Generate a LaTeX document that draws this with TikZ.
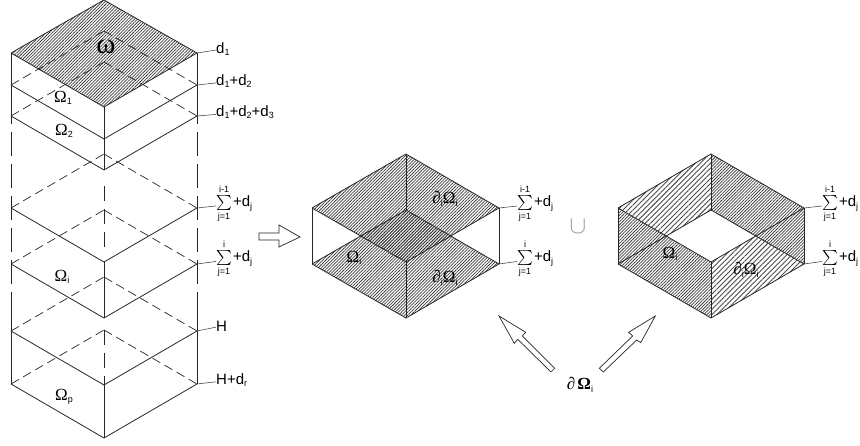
\documentclass[tikz,border=0pt]{standalone}
\usepackage{amsmath}
\usepackage{amssymb}
\usepackage{fontspec}
\setmainfont{Liberation Sans}
\newfontfamily\greekfont{Liberation Serif}
\usetikzlibrary{patterns.meta}

\newcommand{\low}[1]{\raisebox{-2.5pt}{\fontsize{9}{9}\selectfont #1}}
\newcommand{\sumlabel}[1]{$\sum\limits_{\mbox{\fontsize{9}{9}\selectfont j=1}}^{\mbox{\fontsize{9}{9}\selectfont #1}}$\hspace{1pt}+d\low{j}}
\newcommand{\facelabel}{{\greekfont Ω}\low{i}}
\newcommand{\edgelabel}{{\greekfont ∂}\low{i}{\greekfont Ω}\low{i}}

\tikzset{
	solidline/.style={line width=0.8pt,black!85},
	backline/.style={line width=0.7pt,black!85,dash pattern=on 9pt off 5pt},
	riseline/.style={line width=0.7pt,black!85,dash pattern=on 24pt off 8pt},
	midline/.style={line width=0.7pt,black!85,dash pattern=on 15pt off 8pt},
	tickline/.style={line width=0.6pt,black!70},
	fine/.style={pattern={Lines[angle=45,distance=2.2pt,line width=0.75pt]},pattern color=black!75},
	finer/.style={pattern={Lines[angle=45,distance=2.2pt,line width=1.05pt]},pattern color=black!80},
	wide/.style={pattern={Lines[angle=45,distance=3.6pt,line width=0.9pt]},pattern color=black!70},
	level/.style={font=\fontsize{15}{15}\selectfont,anchor=west,inner sep=0pt},
	omega/.style={font=\fontsize{17}{17}\selectfont,inner sep=0pt},
	hollow/.style={line width=0.7pt,black!85,fill=white}
}

\begin{document}
\begin{tikzpicture}[x=1pt,y=-1pt]

\useasboundingbox (0,0) rectangle (860,446);

%Column corners
\coordinate (L_1) at (11, 53);  \coordinate (F_1) at (104, 107); \coordinate (R_1) at (197, 53);  \coordinate (B_1) at (104, 0);
\coordinate (L_2) at (11, 85);  \coordinate (F_2) at (104, 139); \coordinate (R_2) at (197, 85);  \coordinate (B_2) at (104, 31);
\coordinate (L_3) at (11, 116); \coordinate (F_3) at (104, 170); \coordinate (R_3) at (197, 116); \coordinate (B_3) at (104, 62);
\coordinate (L_4) at (11, 208); \coordinate (F_4) at (104, 262); \coordinate (R_4) at (197, 208); \coordinate (B_4) at (104, 154);
\coordinate (L_5) at (11, 264); \coordinate (F_5) at (104, 318); \coordinate (R_5) at (197, 264); \coordinate (B_5) at (104, 210);
\coordinate (L_6) at (11, 331); \coordinate (F_6) at (104, 385); \coordinate (R_6) at (197, 331); \coordinate (B_6) at (104, 277);
\coordinate (L_7) at (11, 384); \coordinate (F_7) at (104, 438); \coordinate (R_7) at (197, 384); \coordinate (B_7) at (104, 330);
\coordinate (L_a) at (11, 124); \coordinate (R_a) at (197, 124);
\coordinate (L_b) at (11, 313); \coordinate (R_b) at (197, 313);

%Middle box corners
\coordinate (ml_1) at (312, 208); \coordinate (mf_1) at (406, 262); \coordinate (mr_1) at (499, 208); \coordinate (mb_1) at (406, 154);
\coordinate (ml_2) at (312, 264); \coordinate (mf_2) at (406, 318); \coordinate (mr_2) at (499, 264); \coordinate (mb_2) at (406, 210);
\coordinate (mc_l) at (359, 236); \coordinate (mc_r) at (452, 236);

%Right box corners
\coordinate (rl_1) at (618, 208); \coordinate (rf_1) at (711, 262); \coordinate (rr_1) at (804, 208); \coordinate (rb_1) at (711, 154);
\coordinate (rl_2) at (618, 264); \coordinate (rf_2) at (711, 318); \coordinate (rr_2) at (804, 264); \coordinate (rb_2) at (711, 210);

%Hatching
\path [fine] (L_1) -- (B_1) -- (R_1) -- (F_1) -- cycle;

\path [fine] (ml_1) -- (mb_1) -- (mr_1) -- (mf_1) -- cycle;
\path [fine] (ml_2) -- (mb_2) -- (mr_2) -- (mf_2) -- cycle;
\path [preaction={fill=white},finer] (mc_l) -- (mb_2) -- (mc_r) -- (mf_1) -- cycle;

\path [wide] (rl_1) -- (rb_1) -- (rb_2) -- (rl_2) -- cycle;
\path [wide] (rf_1) -- (rr_1) -- (rr_2) -- (rf_2) -- cycle;
\path [preaction={fill=white},fine] (rb_1) -- (rr_1) -- (rr_2) -- (rb_2) -- cycle;
\path [preaction={fill=white},fine] (rl_1) -- (rf_1) -- (rf_2) -- (rl_2) -- cycle;

\begin{scope}[solidline]
	%Column
	\path [-] (L_1) edge (B_1);
	\path [-] (B_1) edge (R_1);
	\path [-] (L_1) edge (F_1);
	\path [-] (F_1) edge (R_1);
	\path [-] (L_2) edge (F_2);
	\path [-] (F_2) edge (R_2);
	\path [-] (L_3) edge (F_3);
	\path [-] (F_3) edge (R_3);
	\path [-] (L_4) edge (F_4);
	\path [-] (F_4) edge (R_4);
	\path [-] (L_5) edge (F_5);
	\path [-] (F_5) edge (R_5);
	\path [-] (L_6) edge (F_6);
	\path [-] (F_6) edge (R_6);
	\path [-] (L_7) edge (F_7);
	\path [-] (F_7) edge (R_7);

	\path [-] (L_1) edge (L_a);
	\path [-] (R_1) edge (R_a);
	\path [-] (L_b) edge (L_7);
	\path [-] (R_b) edge (R_7);
	\path [-] (F_1) edge (F_3);
	\path [-] (F_4) edge (F_5);
	\path [-] (F_6) edge (F_7);

	%Middle box
	\path [-] (ml_1) edge (mb_1);
	\path [-] (mb_1) edge (mr_1);
	\path [-] (mr_1) edge (mf_1);
	\path [-] (mf_1) edge (ml_1);
	\path [-] (ml_2) edge (mb_2);
	\path [-] (mb_2) edge (mr_2);
	\path [-] (mr_2) edge (mf_2);
	\path [-] (mf_2) edge (ml_2);
	\path [-] (ml_1) edge (ml_2);
	\path [-] (mr_1) edge (mr_2);
	\path [-] (mb_1) edge (mb_2);
	\path [-] (mf_1) edge (mf_2);

	%Right box
	\path [-] (rl_1) edge (rb_1);
	\path [-] (rb_1) edge (rr_1);
	\path [-] (rr_1) edge (rf_1);
	\path [-] (rf_1) edge (rl_1);
	\path [-] (rl_2) edge (rb_2);
	\path [-] (rb_2) edge (rr_2);
	\path [-] (rr_2) edge (rf_2);
	\path [-] (rf_2) edge (rl_2);
	\path [-] (rl_1) edge (rl_2);
	\path [-] (rr_1) edge (rr_2);
	\path [-] (rb_1) edge (rb_2);
	\path [-] (rf_1) edge (rf_2);
\end{scope}

%Hidden edges
\begin{scope}[backline]
	\path [-] (L_2) edge (B_2);
	\path [-] (B_2) edge (R_2);
	\path [-] (L_3) edge (B_3);
	\path [-] (B_3) edge (R_3);
	\path [-] (L_4) edge (B_4);
	\path [-] (B_4) edge (R_4);
	\path [-] (L_5) edge (B_5);
	\path [-] (B_5) edge (R_5);
	\path [-] (L_6) edge (B_6);
	\path [-] (B_6) edge (R_6);
	\path [-] (L_7) edge (B_7);
	\path [-] (B_7) edge (R_7);
\end{scope}

\begin{scope}[riseline]
	\path [-,shorten <=8pt] (L_a) edge (L_b);
	\path [-,shorten <=8pt] (R_a) edge (R_b);
\end{scope}

\begin{scope}[midline]
	\path [-,shorten <=16pt,shorten >=15pt] (F_3) edge (F_4);
	\path [-,shorten <=12pt] (F_5) edge (F_6);
\end{scope}

%Level labels
\node [level] (d1) at (216, 49) {d\low{1}};
\node [level] (d2) at (216, 81) {d\low{1}+d\low{2}};
\node [level] (d3) at (216, 112) {d\low{1}+d\low{2}+d\low{3}};
\node [level] (s1) at (216, 204) {\sumlabel{i-1}};
\node [level] (s2) at (216, 259) {\sumlabel{i}};
\node [level] (h1) at (216, 326) {H};
\node [level] (h2) at (216, 380) {H+d\low{r}};
\node [level] (s3) at (517, 204) {\sumlabel{i-1}};
\node [level] (s4) at (517, 259) {\sumlabel{i}};
\node [level] (s5) at (822, 204) {\sumlabel{i-1}};
\node [level] (s6) at (822, 259) {\sumlabel{i}};

\begin{scope}[tickline]
	\path [-] (R_1) edge (d1);
	\path [-] (R_2) edge (d2);
	\path [-] (R_3) edge (d3);
	\path [-] (R_4) edge (s1);
	\path [-] (R_5) edge (s2);
	\path [-] (R_6) edge (h1);
	\path [-] (R_7) edge (h2);
	\path [-] (mr_1) edge (s3);
	\path [-] (mr_2) edge (s4);
	\path [-] (rr_1) edge (s5);
	\path [-] (rr_2) edge (s6);
\end{scope}

%Face labels
\node [omega,font=\fontsize{29}{29}\selectfont\greekfont] (w) at (106, 47) {ω};
\node [omega] (o1) at (63, 98) {{\greekfont Ω}\low{1}};
\node [omega] (o2) at (64, 131) {{\greekfont Ω}\low{2}};
\node [omega] (oi) at (62, 277) {\facelabel};
\node [omega] (op) at (64, 397) {{\greekfont Ω}\low{p}};
\node [omega] (m1) at (445, 199) {\edgelabel};
\node [omega] (m2) at (445, 278) {\edgelabel};
\node [omega] (m3) at (354, 258) {\facelabel};
\node [omega] (r1) at (670, 254) {\facelabel};
\node [omega] (r2) at (746, 270) {\edgelabel};
\node [omega,text=black!40,font=\fontsize{24}{24}\selectfont] (cup) at (578, 227) {$\cup$};
\node [omega] (bd) at (580, 385) {{\greekfont\itshape ∂}\hspace{2pt}{\greekfont\bfseries Ω}\low{i}};

%Hollow arrows
\path [draw,hollow] (259, 233) -- (279, 233) -- (279, 225) -- (300, 237) -- (279, 247) -- (279, 240) -- (259, 240) -- cycle;
\path [draw,hollow] (499, 316) -- (525.7, 332.3) -- (522.3, 336) -- (554.7, 368.3) -- (551, 372) -- (517.7, 339.3) -- (514.3, 343.3) -- cycle;
\path [draw,hollow] (655.3, 316) -- (628.7, 332.3) -- (632.7, 336) -- (599.3, 368.3) -- (603.3, 372) -- (636.7, 340) -- (640.7, 342.7) -- cycle;

\end{tikzpicture}
\end{document}
